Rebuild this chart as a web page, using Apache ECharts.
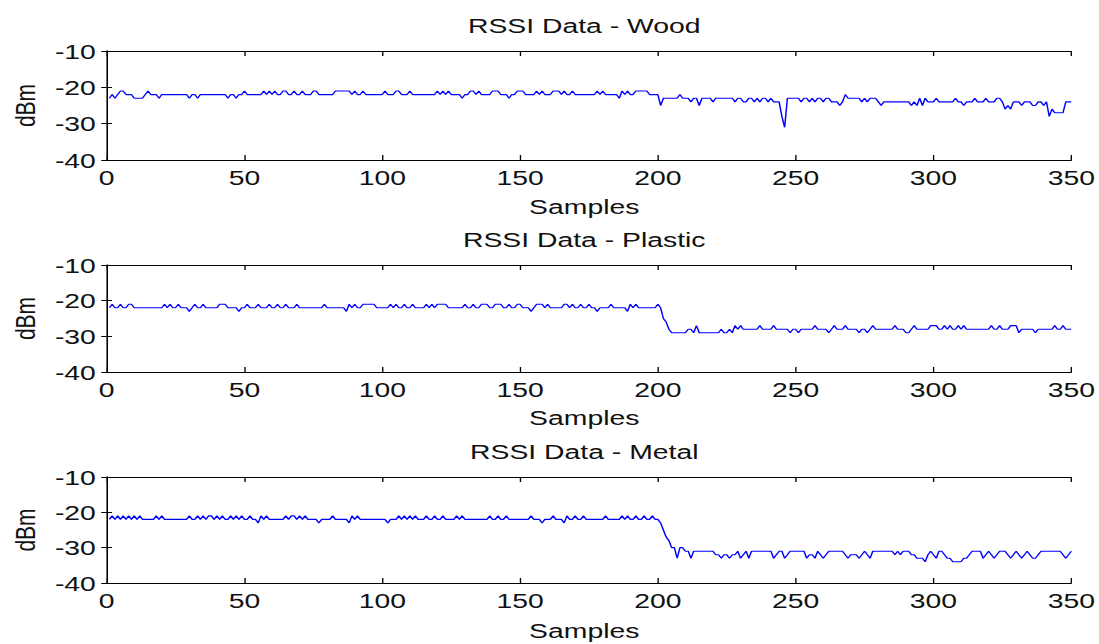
<!DOCTYPE html>
<html>
<head>
<meta charset="utf-8">
<script src="https://cdn.jsdelivr.net/npm/echarts@6/dist/echarts.min.js"></script>
<style>
html,body{margin:0;padding:0;background:#fff;overflow:hidden;width:1099px;height:644px;}
#chart{width:814px;height:644px;transform:scaleX(1.3501);transform-origin:0 0;}
</style>
</head>
<body>
<div id="chart"></div>
<script>
// ---- data ----
const titles = ['RSSI Data - Wood', 'RSSI Data - Plastic', 'RSSI Data - Metal'];
const xLabel = 'Samples';
const yLabel = 'dBm';
const xMin = 0, xMax = 350, xStep = 50;
const yMin = -40, yMax = -10, yStep = 10;

const wood = [
-23,-22,-23,-22,-21,-21,-22,-22,-22,-23,
-23,-23,-23,-22,-21,-22,-22,-22,-23,-22,
-22,-22,-22,-22,-22,-22,-22,-22,-22,-23,
-22,-22,-23,-22,-22,-22,-22,-22,-22,-22,
-22,-22,-22,-23,-22,-22,-23,-22,-22,-21,
-22,-22,-22,-22,-22,-22,-21,-22,-21,-22,
-21,-22,-22,-21,-21,-22,-22,-21,-22,-22,
-21,-22,-22,-22,-21,-21,-22,-22,-22,-22,
-22,-22,-21,-21,-21,-21,-21,-21,-22,-21,
-22,-22,-21,-22,-22,-22,-22,-22,-22,-22,
-21,-22,-22,-22,-21,-21,-22,-22,-22,-21,
-22,-22,-22,-22,-22,-22,-22,-22,-22,-21,
-22,-21,-22,-21,-22,-22,-22,-22,-23,-22,
-22,-21,-21,-22,-21,-22,-22,-22,-22,-21,
-21,-21,-22,-22,-22,-23,-22,-22,-21,-21,
-21,-22,-22,-22,-22,-21,-22,-21,-22,-22,
-22,-21,-21,-21,-22,-21,-22,-22,-21,-22,
-22,-22,-22,-22,-22,-22,-22,-21,-22,-21,
-22,-22,-22,-22,-22,-23,-21,-22,-21,-22,
-22,-21,-21,-21,-21,-21,-22,-22,-22,-22,
-25,-23,-23,-23,-23,-23,-23,-22,-23,-23,
-23,-24,-23,-23,-25,-23,-23,-23,-23,-24,
-23,-23,-23,-23,-23,-23,-23,-24,-23,-23,
-24,-24,-23,-23,-24,-23,-24,-23,-23,-24,
-23,-24,-24,-24,-28,-31,-23,-23,-23,-23,
-23,-24,-23,-23,-24,-23,-24,-23,-23,-24,
-23,-23,-24,-24,-24,-25,-24,-22,-23,-23,
-23,-23,-23,-24,-23,-24,-23,-23,-23,-24,
-25,-24,-24,-24,-24,-24,-24,-24,-24,-24,
-24,-25,-24,-25,-23,-25,-23,-24,-24,-24,
-23,-24,-24,-24,-24,-24,-24,-23,-24,-24,
-25,-24,-24,-24,-23,-24,-24,-24,-23,-24,
-24,-24,-23,-23,-24,-26,-25,-26,-24,-24,
-24,-25,-24,-24,-24,-25,-25,-24,-24,-25,
-24,-28,-26,-27,-27,-27,-27,-24,-24,-24
];

const plastic = [
-22,-21,-22,-22,-21,-22,-22,-21,-21,-22,
-22,-22,-22,-22,-22,-22,-22,-22,-22,-22,
-21,-22,-21,-22,-22,-21,-22,-22,-22,-23,
-22,-21,-22,-22,-21,-22,-22,-22,-22,-22,
-21,-21,-21,-22,-22,-22,-22,-23,-22,-22,
-21,-22,-22,-22,-21,-22,-22,-22,-21,-22,
-22,-21,-22,-22,-21,-22,-22,-22,-21,-22,
-22,-22,-22,-22,-22,-22,-22,-22,-21,-22,
-22,-22,-22,-22,-22,-22,-23,-21,-22,-21,
-22,-22,-21,-21,-21,-21,-21,-22,-22,-22,
-22,-22,-21,-22,-21,-22,-22,-21,-22,-22,
-21,-22,-22,-22,-22,-21,-22,-21,-22,-21,
-21,-21,-21,-22,-22,-22,-22,-22,-22,-21,
-22,-22,-21,-22,-22,-21,-21,-21,-22,-22,
-21,-21,-21,-22,-22,-21,-22,-22,-21,-21,
-22,-22,-22,-23,-22,-21,-21,-21,-22,-21,
-22,-22,-22,-22,-22,-21,-21,-22,-21,-22,
-22,-21,-22,-22,-21,-22,-22,-23,-22,-22,
-22,-22,-21,-22,-22,-22,-22,-22,-23,-21,
-22,-21,-22,-22,-22,-22,-22,-22,-22,-21,
-22,-25,-26,-28,-29,-29,-29,-29,-29,-29,
-28,-28,-29,-27,-29,-29,-29,-29,-29,-29,
-29,-29,-28,-29,-29,-28,-29,-27,-28,-27,
-28,-28,-28,-28,-28,-28,-27,-28,-28,-28,
-28,-27,-28,-28,-28,-28,-28,-29,-28,-28,
-29,-28,-28,-28,-28,-28,-27,-28,-28,-28,
-28,-29,-28,-27,-28,-28,-28,-27,-28,-28,
-28,-28,-29,-28,-28,-29,-28,-27,-28,-28,
-28,-28,-28,-28,-28,-27,-28,-28,-28,-29,
-29,-28,-27,-28,-28,-28,-28,-28,-27,-27,
-27,-28,-28,-27,-28,-27,-28,-28,-27,-28,
-27,-28,-28,-28,-28,-28,-28,-28,-28,-28,
-27,-28,-28,-27,-28,-28,-28,-27,-27,-27,
-29,-28,-28,-28,-28,-28,-29,-28,-28,-28,
-28,-28,-28,-27,-28,-28,-27,-28,-28,-28
];

const metal = [
-22,-21,-22,-21,-22,-21,-22,-21,-22,-21,
-22,-21,-22,-22,-22,-22,-22,-21,-22,-21,
-22,-22,-22,-22,-22,-22,-22,-22,-22,-21,
-22,-22,-21,-22,-21,-22,-21,-21,-22,-21,
-22,-21,-22,-22,-21,-22,-21,-22,-21,-22,
-22,-21,-22,-22,-23,-21,-22,-21,-22,-22,
-22,-22,-22,-22,-21,-22,-21,-21,-22,-21,
-22,-21,-22,-22,-22,-22,-23,-22,-22,-22,
-22,-21,-22,-22,-22,-22,-22,-23,-21,-22,
-21,-22,-22,-22,-22,-22,-22,-22,-22,-22,
-22,-23,-22,-22,-22,-21,-22,-21,-22,-21,
-22,-21,-22,-22,-22,-21,-22,-22,-21,-22,
-22,-21,-22,-22,-22,-22,-21,-22,-21,-22,
-22,-22,-22,-22,-22,-22,-22,-22,-21,-22,
-22,-21,-22,-22,-21,-22,-22,-22,-22,-22,
-22,-22,-22,-21,-22,-22,-22,-23,-22,-22,
-22,-21,-22,-22,-22,-23,-21,-22,-22,-21,
-22,-22,-21,-22,-22,-22,-22,-22,-22,-22,
-21,-22,-22,-22,-22,-22,-21,-22,-21,-22,
-22,-21,-22,-22,-21,-22,-22,-21,-22,-22,
-23,-25,-27,-28,-30,-30,-33,-30,-30,-31,
-31,-33,-31,-31,-31,-31,-31,-31,-31,-31,
-32,-32,-33,-32,-32,-33,-32,-32,-31,-33,
-32,-31,-33,-31,-31,-31,-31,-31,-31,-31,
-31,-33,-32,-31,-31,-33,-32,-31,-31,-31,
-31,-31,-31,-33,-32,-32,-33,-31,-32,-33,
-32,-31,-31,-31,-31,-31,-31,-32,-33,-32,
-32,-32,-33,-32,-31,-32,-33,-31,-31,-31,
-31,-31,-31,-31,-31,-32,-31,-32,-31,-31,
-31,-32,-32,-33,-33,-33,-34,-32,-31,-32,
-33,-31,-31,-32,-33,-33,-34,-34,-34,-34,
-33,-33,-32,-31,-31,-31,-31,-33,-32,-31,
-32,-33,-32,-31,-31,-31,-32,-33,-32,-31,
-32,-33,-32,-31,-32,-33,-33,-32,-31,-31,
-31,-31,-31,-31,-31,-31,-32,-33,-32,-31
];

const seriesValues = [wood, plastic, metal];

// ---- layout (unscaled container coords) ----
const FONT = "'Liberation Sans', Arial, sans-serif";
const TEXT = '#111';
const gridTops = [51, 265, 477];
const gridHeights = [109, 107, 106];
const samplesGap = [36, 35, 37];

const chart = echarts.init(document.getElementById('chart'), null, {renderer: 'svg'});

const grids = [], xAxes = [], yAxes = [], series = [];
const lineStyleAxis = {show: true, lineStyle: {color: '#000', width: 1}};
titles.forEach((t, i) => {
  grids.push({left: 78.5, width: 716.3, top: gridTops[i], height: gridHeights[i], containLabel: false});
  xAxes.push({
    type: 'value', gridIndex: i, position: 'bottom', min: xMin, max: xMax, interval: xStep,
    axisLine: lineStyleAxis,
    axisTick: {show: true, inside: true, length: 5, lineStyle: {color: '#000', width: 1}},
    axisLabel: {show: true, color: TEXT, fontFamily: FONT, fontSize: 21, margin: 7},
    splitLine: {show: false},
    name: xLabel, nameLocation: 'middle', nameGap: samplesGap[i],
    nameTextStyle: {color: TEXT, fontFamily: FONT, fontSize: 21, padding: [0, 7, 0, 0]}
  });
  xAxes.push({
    type: 'value', gridIndex: i, position: 'top', min: xMin, max: xMax, interval: xStep,
    axisLine: lineStyleAxis,
    axisTick: {show: true, inside: true, length: 5, lineStyle: {color: '#000', width: 1}},
    axisLabel: {show: false},
    splitLine: {show: false},
    name: t, nameLocation: 'middle', nameGap: 15,
    nameTextStyle: {color: TEXT, fontFamily: FONT, fontSize: 21, padding: [0, 7, 0, 0]}
  });
  yAxes.push({
    type: 'value', gridIndex: i, position: 'left', min: yMin, max: yMax, interval: yStep,
    axisLine: lineStyleAxis,
    axisTick: {show: true, inside: true, length: 4, lineStyle: {color: '#000', width: 1}},
    axisLabel: {show: true, color: TEXT, fontFamily: FONT, fontSize: 21, margin: 8},
    splitLine: {show: false},
    name: yLabel, nameLocation: 'middle', nameGap: 50, nameRotate: 90,
    nameTextStyle: {color: TEXT, fontFamily: FONT, fontSize: 21}
  });
  yAxes.push({
    type: 'value', gridIndex: i, position: 'right', min: yMin, max: yMax, interval: yStep,
    axisLine: lineStyleAxis,
    axisTick: {show: true, inside: true, length: 4, lineStyle: {color: '#000', width: 1}},
    axisLabel: {show: false},
    splitLine: {show: false}
  });
  series.push({
    type: 'line', xAxisIndex: 2 * i, yAxisIndex: 2 * i,
    data: seriesValues[i].map((v, k) => [k + 1, v]),
    showSymbol: false, symbol: 'none', animation: false,
    lineStyle: {color: '#0000ff', width: 1.1}
  });
});

chart.setOption({
  animation: false,
  backgroundColor: '#fff',
  grid: grids,
  xAxis: xAxes,
  yAxis: yAxes,
  series: series
});
</script>
</body>
</html>
